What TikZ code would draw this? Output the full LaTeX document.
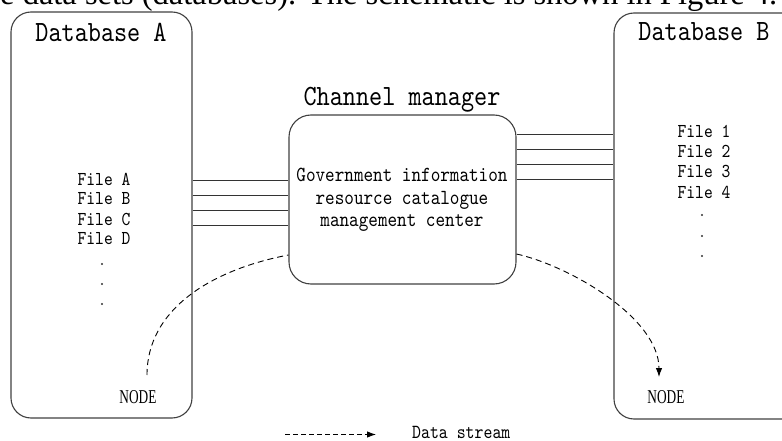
\documentclass[tikz,border=0pt]{standalone}
\usepackage{fontspec}
\setmainfont{Liberation Serif}
\newfontfamily\monoface[FakeStretch=0.85]{lmmono10-regular.otf}
\newfontfamily\narrowserif[FakeStretch=0.68]{Liberation Serif}
\usetikzlibrary{arrows.meta}

\tikzset{
  panel/.style={draw=black!75, line width=1.1pt, rounded corners=20pt,
                inner sep=0pt, fill=none},
  centerbox/.style={panel, rounded corners=22pt},
  title/.style={font=\monoface\fontsize{29.4}{32}\selectfont, inner sep=0pt},
  bodytext/.style={font=\monoface\fontsize{21.5}{23}\selectfont, inner sep=0pt,
                   align=center},
  filelabel/.style={font=\monoface\fontsize{19.7}{21}\selectfont, inner sep=0pt},
  nodelabel/.style={font=\narrowserif\fontsize{19.6}{21}\selectfont, inner sep=0pt},
  dotmark/.style={circle, fill=black!80, inner sep=0pt, minimum size=2.2pt},
  link/.style={draw=black!80, line width=0.9pt},
  flow/.style={draw=black, line width=0.9pt, dash pattern=on 6pt off 4pt},
  flowtip/.style={-{Latex[length=9pt,width=6.5pt]}},
}

\begin{document}
\begin{tikzpicture}[x=1pt, y=-1pt]
  \useasboundingbox (0,0) rectangle (782,441);
  \clip (0,0) rectangle (782,441);

  % running text line of the page above the figure
  \node[anchor=base west, inner sep=0pt,
        font=\fontsize{32.5}{34}\selectfont] (caption) at (0,5)
        {e data sets (databases). The schematic is shown in Figure 4.};

  % the two databases and the channel manager
  \node[panel, minimum width=181pt, minimum height=406pt] (dbA) at (101.5,215) {};
  \node[panel, minimum width=190pt, minimum height=406pt] (dbB) at (709,216) {};
  \node[centerbox, minimum width=227pt, minimum height=169pt] (cm) at (402.5,199.5) {};

  \node[title] (tA) at (101,32) {Database A};
  \node[title] (tB) at (704,32) {Database B};
  \node[title] (tC) at (402,100) {Channel manager};

  \node[bodytext] (cmtext) at (402,200)
    {Government information\\[-0.6pt] resource catalogue\\[-0.6pt] management center};

  % files held in database A
  \node[filelabel] (fA) at (104,179) {File A};
  \node[filelabel] (fB) at (104,199) {File B};
  \node[filelabel] (fC) at (104,219) {File C};
  \node[filelabel] (fD) at (104,239) {File D};
  \node[dotmark] (dA1) at (102,264) {};
  \node[dotmark] (dA2) at (102,284) {};
  \node[dotmark] (dA3) at (102,304) {};

  % files held in database B
  \node[filelabel] (f1) at (704,131) {File 1};
  \node[filelabel] (f2) at (704,151) {File 2};
  \node[filelabel] (f3) at (704,171) {File 3};
  \node[filelabel] (f4) at (704,192) {File 4};
  \node[dotmark] (dB1) at (702,215) {};
  \node[dotmark] (dB2) at (702,236) {};
  \node[dotmark] (dB3) at (702,256) {};

  \node[nodelabel] (nodeA) at (138,397) {NODE};
  \node[nodelabel] (nodeB) at (666,397) {NODE};

  % channels between the databases and the manager
  \foreach \yy in {180,195,210,225}
    \draw[link] (dbA.east |- 0,\yy) -- (cm.west |- 0,\yy);
  \foreach \yy in {134,149,164,179}
    \draw[link] (cm.east |- 0,\yy) -- (dbB.west |- 0,\yy);

  % data stream from node A through the manager to node B
  \coordinate (srcA) at (147,375);
  \coordinate (sinkB) at (659,377);
  \draw[flow] (srcA) .. controls (147,310) and (210,270) .. (cm.west |- 0,255);
  \draw[flow, flowtip] (cm.east |- 0,254) .. controls (570,266) and (659,318) .. (sinkB);

  % legend
  \coordinate (lg1) at (285,434.5);
  \coordinate (lg2) at (376,434.5);
  \draw[flow, dash pattern=on 5pt off 3pt, flowtip] (lg1) -- (lg2);
  \node[bodytext, anchor=base west, font=\monoface\fontsize{20}{21}\selectfont] (lgtext) at (412,438.5) {Data stream};
\end{tikzpicture}
\end{document}
